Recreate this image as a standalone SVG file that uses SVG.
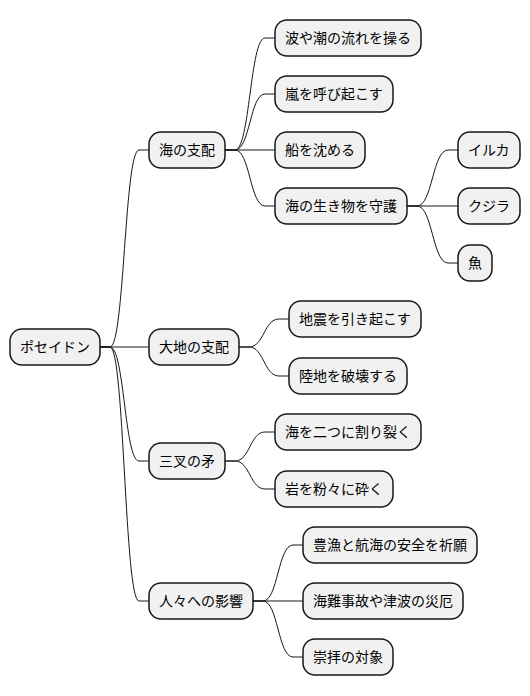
<svg xmlns="http://www.w3.org/2000/svg" width="530" height="696" viewBox="0 0 530 696">
<style>
.n rect{fill:#F1F1F1;stroke:#181818;stroke-width:1.5}
.n text{font-family:"Noto Sans CJK JP","Noto Sans",sans-serif;font-size:14px;fill:#000000}
#links path{fill:none;stroke:#181818;stroke-width:1}
</style>
<rect width="530" height="696" fill="#FFFFFF"/>
<g id="links">
<path d="M100,347 H110 C124.5,347 124.5,150 139,150 H149"/>
<path d="M100,347 H149"/>
<path d="M100,347 H110 C124.5,347 124.5,461 139,461 H149"/>
<path d="M100,347 H110 C124.5,347 124.5,601 139,601 H149"/>
<path d="M225,150 H235 C250,150 250,38 265,38 H275"/>
<path d="M225,150 H235 C250,150 250,94 265,94 H275"/>
<path d="M225,150 H275"/>
<path d="M225,150 H235 C250,150 250,206 265,206 H275"/>
<path d="M407,206 H417 C432.5,206 432.5,150 448,150 H458"/>
<path d="M407,206 H458"/>
<path d="M407,206 H417 C432.5,206 432.5,263 448,263 H458"/>
<path d="M239,347 H249 C264,347 264,319 279,319 H289"/>
<path d="M239,347 H249 C264,347 264,376 279,376 H289"/>
<path d="M225,461 H235 C250,461 250,432 265,432 H275"/>
<path d="M225,461 H235 C250,461 250,489 265,489 H275"/>
<path d="M253,601 H263 C278,601 278,545 293,545 H303"/>
<path d="M253,601 H303"/>
<path d="M253,601 H263 C278,601 278,657 293,657 H303"/>
</g>
<g id="root" class="n"><rect x="10" y="329" width="90" height="36" rx="12"/><text x="20" y="352">ポセイドン</text></g>
<g id="sea" class="n"><rect x="149" y="132" width="76" height="36" rx="12"/><text x="159" y="155">海の支配</text></g>
<g id="sea1" class="n"><rect x="275" y="20" width="146" height="36" rx="12"/><text x="285" y="43">波や潮の流れを操る</text></g>
<g id="sea2" class="n"><rect x="275" y="76" width="118" height="36" rx="12"/><text x="285" y="99">嵐を呼び起こす</text></g>
<g id="sea3" class="n"><rect x="275" y="132" width="90" height="36" rx="12"/><text x="285" y="155">船を沈める</text></g>
<g id="sea4" class="n"><rect x="275" y="188" width="132" height="36" rx="12"/><text x="285" y="211">海の生き物を守護</text></g>
<g id="dolphin" class="n"><rect x="458" y="132" width="62" height="36" rx="12"/><text x="468" y="155">イルカ</text></g>
<g id="whale" class="n"><rect x="458" y="188" width="62" height="36" rx="12"/><text x="468" y="211">クジラ</text></g>
<g id="fish" class="n"><rect x="458" y="245" width="34" height="36" rx="12"/><text x="468" y="268">魚</text></g>
<g id="earth" class="n"><rect x="149" y="329" width="90" height="36" rx="12"/><text x="159" y="352">大地の支配</text></g>
<g id="earth1" class="n"><rect x="289" y="301" width="132" height="36" rx="12"/><text x="299" y="324">地震を引き起こす</text></g>
<g id="earth2" class="n"><rect x="289" y="358" width="118" height="36" rx="12"/><text x="299" y="381">陸地を破壊する</text></g>
<g id="trident" class="n"><rect x="149" y="443" width="76" height="36" rx="12"/><text x="159" y="466">三叉の矛</text></g>
<g id="trident1" class="n"><rect x="275" y="414" width="146" height="36" rx="12"/><text x="285" y="437">海を二つに割り裂く</text></g>
<g id="trident2" class="n"><rect x="275" y="471" width="118" height="36" rx="12"/><text x="285" y="494">岩を粉々に砕く</text></g>
<g id="people" class="n"><rect x="149" y="583" width="104" height="36" rx="12"/><text x="159" y="606">人々への影響</text></g>
<g id="people1" class="n"><rect x="303" y="527" width="174" height="36" rx="12"/><text x="313" y="550">豊漁と航海の安全を祈願</text></g>
<g id="people2" class="n"><rect x="303" y="583" width="160" height="36" rx="12"/><text x="313" y="606">海難事故や津波の災厄</text></g>
<g id="people3" class="n"><rect x="303" y="639" width="90" height="36" rx="12"/><text x="313" y="662">崇拝の対象</text></g>
</svg>
